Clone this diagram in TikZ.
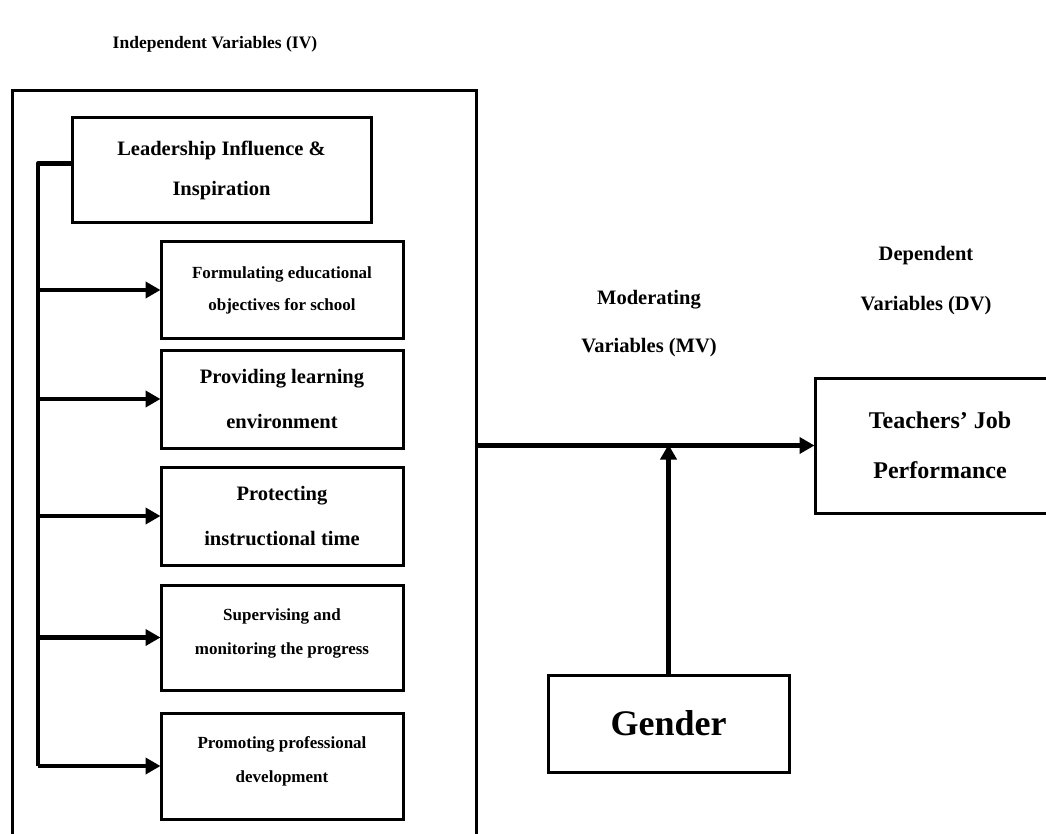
\documentclass[tikz,border=0pt]{standalone}
\usepackage{fontspec}
\setmainfont{Liberation Serif}
\usetikzlibrary{arrows.meta, positioning, calc}

\begin{document}
\begin{tikzpicture}[x=1pt, y=-1pt,
    varbox/.style={draw, line width=3pt, inner sep=0pt, align=center},
    conn/.style={line width=4.5pt},
    arrow/.style={conn, -{Triangle[length=15pt, width=16pt]}, shorten >=-1pt}]
    \useasboundingbox (0, 0) rectangle (1046, 834);
    \begin{scope}
    \clip (0, 0) rectangle (1046, 834);

    % Independent variables
    \node[font=\fontsize{17.5}{21}\selectfont\bfseries] (ivtitle) at (215, 44) {Independent Variables (IV)};
    \node[varbox, minimum width=464pt, minimum height=790pt] (ivbox) at (244, 486) {};
    \node[varbox, minimum width=299pt, minimum height=105pt, font=\fontsize{20.5}{40}\selectfont\bfseries] (lead) at (221.5, 170.5) {Leadership Influence \&\\Inspiration};
    \node[varbox, minimum width=242pt, minimum height=96pt, font=\fontsize{17}{32}\selectfont\bfseries] (f1) at (282, 290) {Formulating educational\\objectives for school};
    \node[varbox, minimum width=242pt, minimum height=98pt, font=\fontsize{20.5}{45}\selectfont\bfseries] (f2) at (282, 399) {Providing learning\\environment};
    \node[varbox, minimum width=242pt, minimum height=98pt, font=\fontsize{20.5}{45}\selectfont\bfseries] (f3) at (282, 516) {Protecting\\instructional time};
    \node[varbox, minimum width=242pt, minimum height=105pt, font=\fontsize{17}{34}\selectfont\bfseries, text depth=12pt] (f4) at (282, 637.5) {Supervising and\\monitoring the progress};
    \node[varbox, minimum width=242pt, minimum height=106pt, font=\fontsize{17}{34}\selectfont\bfseries, text depth=12pt] (f5) at (282, 766) {Promoting professional\\development};

    % Bus from leadership box to the five dimensions
    \coordinate (bus) at (38, 0);
    \draw[conn, line join=round] ([yshift=7pt]lead.west) -| (bus |- f5.west);
    \draw[arrow] (bus |- f1.west) -- (f1.west);
    \draw[arrow] (bus |- f2.west) -- (f2.west);
    \draw[arrow] (bus |- f3.west) -- (f3.west);
    \draw[arrow] (bus |- f4.west) -- (f4.west);
    \draw[arrow] (bus |- f5.west) -- (f5.west);

    % Moderating and dependent variables
    \node[font=\fontsize{20.5}{48}\selectfont\bfseries, align=center] (mvtitle) at (649, 324) {Moderating\\Variables (MV)};
    \node[font=\fontsize{20.5}{50}\selectfont\bfseries, align=center] (dvtitle) at (926, 281) {Dependent\\Variables (DV)};
    \node[varbox, minimum width=250pt, minimum height=135pt, font=\fontsize{24}{50}\selectfont\bfseries] (dv) at (940, 445.5) {Teachers' Job\\Performance};
    \node[varbox, minimum width=241pt, minimum height=97pt, font=\fontsize{36}{40}\selectfont\bfseries] (mv) at (668.5, 723.5) {Gender};

    \draw[arrow] (ivbox.east |- dv.west) -- (dv.west);
    \draw[arrow] (mv.north) -- (mv.north |- dv.west);
    \end{scope}
\end{tikzpicture}
\end{document}
